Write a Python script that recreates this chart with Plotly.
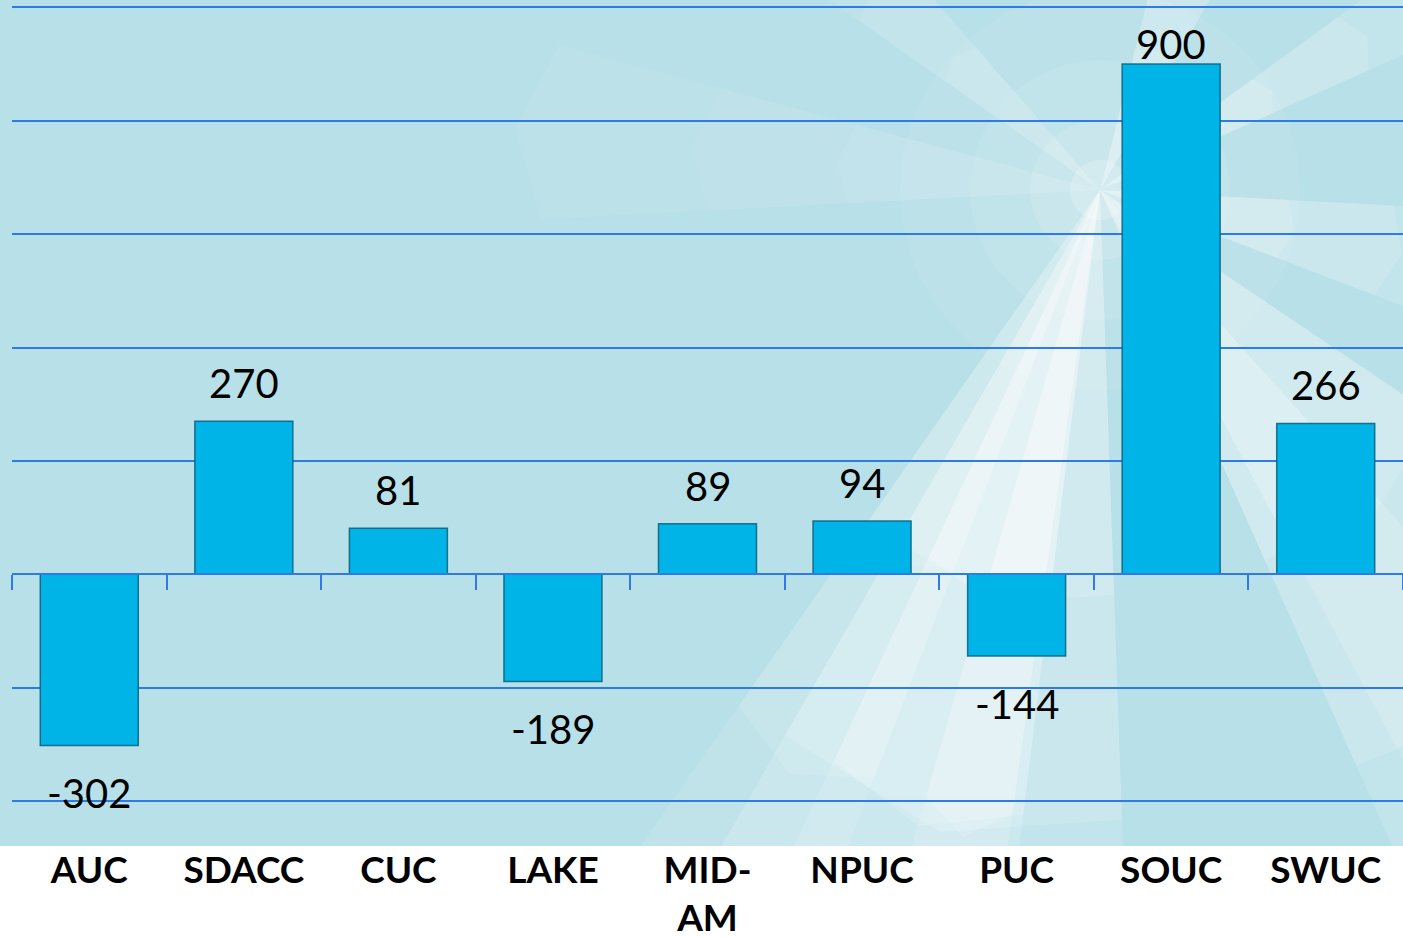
import math
import plotly.graph_objects as go

categories = ['AUC', 'SDACC', 'CUC', 'LAKE', 'MID-<br>AM', 'NPUC', 'PUC', 'SOUC', 'SWUC']
values = [-302, 270, 81, -189, 89, 94, -144, 900, 266]
grid_vals = [-400, -200, 0, 200, 400, 600, 800, 1000]

W, H = 1403, 937
L, R, T, B = 12, 0, 4, 92
y_range = [-477.6, 1006]
grid_blue = 'rgb(46,122,230)'
ppu = (H - T - B) / (y_range[1] - y_range[0])  # pixels per unit


def px(x, y):
    # pixel position -> paper coords
    return (x - L) / (W - L - R), (H - B - y) / (H - T - B)


def wedge(cx, cy, angle, half, length):
    pts = [(cx, cy)]
    for a in (angle - half, angle, angle + half):
        r = math.radians(a)
        k = length if a != angle else length * 1.05
        pts.append((cx + k * math.cos(r), cy + k * math.sin(r)))
    p = [px(*q) for q in pts]
    return 'M ' + ' L '.join('{} {}'.format(a, b) for a, b in p) + ' Z'


fig = go.Figure()

fig.add_trace(go.Bar(
    x=categories,
    y=values,
    marker=dict(color='#00B4E8', line=dict(color='rgba(8,95,125,0.85)', width=1.5)),
    hoverinfo='skip',
))

# helper trace so the zero-line axis gets its category ticks
fig.add_trace(go.Scatter(
    x=categories, y=values, xaxis='x2', mode='markers',
    marker=dict(opacity=0), hoverinfo='skip', showlegend=False,
))

# background picture: light blue with a soft white starburst
shapes = []
x0, y0 = px(0, 0)
x1, y1 = px(W, 846)
shapes.append(dict(type='rect', xref='paper', yref='paper', x0=x0, y0=y1, x1=x1, y1=y0,
                   fillcolor='#B8E0E8', line=dict(width=0), layer='below'))

cx, cy = 1100, 190
rays = [
    # angle, half width, length, opacity
    (104, 16, 900, 0.14), (106, 9, 900, 0.16), (102, 4, 900, 0.16),
    (118, 7, 900, 0.12),
    (186, 9, 560, 0.06),
    (222, 7, 420, 0.08),
    (292, 8, 320, 0.14),
    (330, 6, 420, 0.14),
    (12, 9, 420, 0.14),
    (50, 16, 900, 0.14), (55, 7, 900, 0.10),
]
for ang, half, ln, op in rays:
    for f in (1.0, 0.7, 0.45):
        shapes.append(dict(type='path', xref='paper', yref='paper',
                           path=wedge(cx, cy, ang, half, ln * f),
                           fillcolor='rgba(255,255,255,{})'.format(op), line=dict(width=0), layer='below'))

for rad, op in [(200, 0.06), (130, 0.08), (70, 0.12), (30, 0.2)]:
    a0, b0 = px(cx - rad, cy + rad)
    a1, b1 = px(cx + rad, cy - rad)
    shapes.append(dict(type='circle', xref='paper', yref='paper', x0=a0, y0=b0, x1=a1, y1=b1,
                       fillcolor='rgba(255,255,255,{})'.format(op), line=dict(width=0), layer='below'))

# white strip under the picture
x0, y0 = px(0, 846)
x1, y1 = px(W, H)
shapes.append(dict(type='rect', xref='paper', yref='paper', x0=x0, y0=y1, x1=x1, y1=y0,
                   fillcolor='white', line=dict(width=0), layer='below'))

# data labels
annotations = []
for c, v in zip(categories, values):
    if v >= 0:
        shift = min(38, (1000 - v) * ppu - 37)
    else:
        shift = -48
    annotations.append(dict(
        x=c, y=v, text=str(v), showarrow=False, yshift=shift, yanchor='middle',
        font=dict(family='Lato, Open Sans, sans-serif', size=40, color='black'),
    ))

fig.update_layout(
    width=W, height=H,
    margin=dict(l=L, r=R, t=T, b=B, autoexpand=False),
    paper_bgcolor='white',
    plot_bgcolor='rgba(0,0,0,0)',
    showlegend=False,
    bargap=0.366,
    shapes=shapes,
    annotations=annotations,
    xaxis=dict(
        showgrid=False, zeroline=False, showline=False, ticks='',
        tickfont=dict(family='Lato, sans-serif', size=37, color='black', weight='bold'),
        tickangle=0, automargin=False,
    ),
    xaxis2=dict(
        overlaying='x', matches='x', anchor='free',
        position=(0 - y_range[0]) / (y_range[1] - y_range[0]),
        showticklabels=False, showgrid=False, zeroline=False,
        showline=True, linecolor=grid_blue, linewidth=2,
        ticks='outside', tickson='boundaries', ticklen=15, tickwidth=2, tickcolor=grid_blue,
        automargin=False,
    ),
    yaxis=dict(
        range=y_range, tickvals=grid_vals, showticklabels=False,
        showgrid=True, gridcolor=grid_blue, gridwidth=2,
        zeroline=True, zerolinecolor=grid_blue, zerolinewidth=2,
        showline=False, automargin=False,
    ),
)

# page has a default 8px body margin; drop it so the figure fills the window
fig.write_html('out.html', config={'displayModeBar': False},
               post_script="document.body.style.margin='0';")
